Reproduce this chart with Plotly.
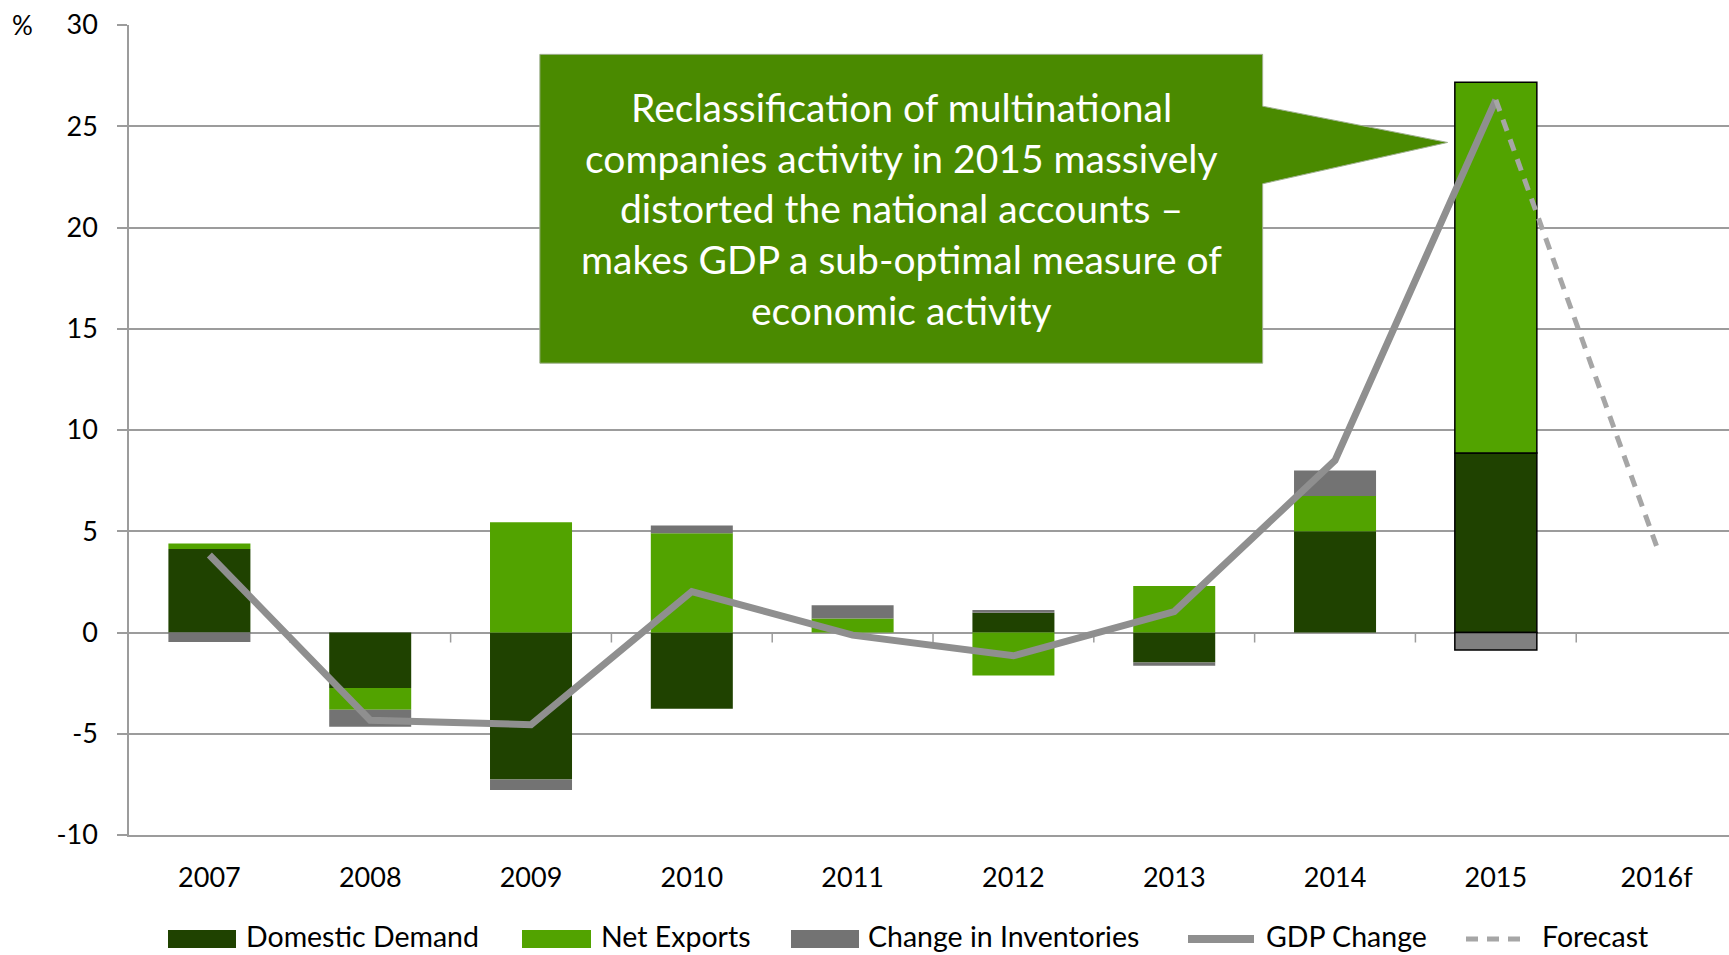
import plotly.graph_objects as go

# ---- data -------------------------------------------------------------
years = ["2007", "2008", "2009", "2010", "2011", "2012", "2013", "2014", "2015", "2016f"]
domestic_demand = [4.12, -2.74, -7.26, -3.76, 0.0, 0.97, -1.48, 5.00, 8.87, None]
net_exports = [0.28, -1.07, 5.44, 4.90, 0.69, -2.12, 2.30, 1.74, 18.30, None]
inventories = [-0.47, -0.85, -0.52, 0.39, 0.66, 0.14, -0.16, 1.26, -0.87, None]
gdp_change = [3.83, -4.33, -4.55, 2.02, -0.13, -1.15, 1.03, 8.50, 26.30, None]
forecast = [None, None, None, None, None, None, None, None, 26.30, 4.26]

series_names = ["Domestic Demand", "Net Exports", "Change in Inventories", "GDP Change", "Forecast"]
y_ticks = [-10, -5, 0, 5, 10, 15, 20, 25, 30]
y_tick_labels = ["-10", "-5", "0", "5", "10", "15", "20", "25", "30"]

callout_lines = [
    "Reclassification of multinational",
    "companies activity in 2015 massively",
    "distorted the national accounts \u2013",
    "makes GDP a sub-optimal measure of",
    "economic activity",
]

# ---- style --------------------------------------------------------------
W, H = 1729, 955
M_L, M_R, M_T, M_B = 129, 0, 25, 120
FONT = "Lato"
DARK_GREEN = "#1f4200"
LIGHT_GREEN = "#52a300"
INV_GREY = "#737373"
INV_GREY_HL = "#808080"
GDP_GREY = "#8f8f8f"
FC_GREY = "#a6a6a6"
GRID = "#9c9c9c"
CALLOUT = "#4a8a00"

x = list(range(len(years)))
highlight = [y == "2015" for y in years]
outline_w = [1.5 if h else 0 for h in highlight]

fig = go.Figure()
fig.add_trace(go.Bar(
    x=x, y=domestic_demand, name=series_names[0], width=0.51,
    marker=dict(color=DARK_GREEN, line=dict(color="black", width=outline_w)),
))
fig.add_trace(go.Bar(
    x=x, y=net_exports, name=series_names[1], width=0.51,
    marker=dict(color=LIGHT_GREEN, line=dict(color="black", width=outline_w)),
))
fig.add_trace(go.Bar(
    x=x, y=inventories, name=series_names[2], width=0.51,
    marker=dict(color=[INV_GREY_HL if h else INV_GREY for h in highlight],
                line=dict(color="black", width=outline_w)),
))
fig.add_trace(go.Scatter(
    x=x, y=gdp_change, name=series_names[3], mode="lines",
    line=dict(color=GDP_GREY, width=7), connectgaps=False,
))
fig.add_trace(go.Scatter(
    x=x, y=forecast, name=series_names[4], mode="lines",
    line=dict(color=FC_GREY, width=5, dash="12px,9px"), connectgaps=False,
))

shapes = []
# small category-boundary ticks hanging from the zero line
for i in range(len(years) - 1):
    shapes.append(dict(
        type="line", xref="x", yref="y", x0=i + 0.5, x1=i + 0.5,
        ysizemode="pixel", yanchor=0, y0=0, y1=-10,
        line=dict(color=GRID, width=1.5), layer="below",
    ))

# callout box with pointer towards the 2015 bar
bx0, bx1, by0, by1 = 2.055, 6.55, 13.3, 28.55
tip_x, tip_y = 7.70, 24.2
base_lo, base_hi = 22.16, 25.99
path = (f"M {bx0},{by0} L {bx1},{by0} L {bx1},{base_lo} L {tip_x},{tip_y} "
        f"L {bx1},{base_hi} L {bx1},{by1} L {bx0},{by1} Z")
shapes.append(dict(type="path", path=path, xref="x", yref="y",
                   fillcolor=CALLOUT, line=dict(color="#9fb08f", width=1), layer="above"))

annotations = []
line_top = 25.95
line_step = 2.505
for k, txt in enumerate(callout_lines):
    annotations.append(dict(
        x=(bx0 + bx1) / 2, y=line_top - k * line_step, xref="x", yref="y",
        text=txt, showarrow=False, xanchor="center", yanchor="middle",
        font=dict(family=FONT, size=39, color="white"),
    ))

# "%" unit label beside the top tick
plot_w = W - M_L - M_R
plot_h = H - M_T - M_B


def px_x(p):
    return (p - M_L) / plot_w


def px_y(p):
    return (H - M_B - p) / plot_h


annotations.append(dict(
    x=px_x(22), y=px_y(25), xref="paper", yref="paper", text="%", showarrow=False,
    xanchor="center", yanchor="middle", font=dict(family=FONT, size=26, color="black"),
))

# legend row
leg_y0, leg_y1, leg_yc, leg_text_y = 930, 948, 939, 936
legend_items = [
    ("bar", DARK_GREEN, 168, 236, 244),
    ("bar", LIGHT_GREEN, 522, 591, 599),
    ("bar", INV_GREY, 791, 859, 866),
    ("line", GDP_GREY, 1188, 1254, 1264),
    ("dash", FC_GREY, 1466, 1526, 1540),
]
for (kind, col, sx0, sx1, tx), name in zip(legend_items, series_names):
    if kind == "bar":
        shapes.append(dict(type="rect", xref="paper", yref="paper",
                           x0=px_x(sx0), x1=px_x(sx1), y0=px_y(leg_y1), y1=px_y(leg_y0),
                           fillcolor=col, line=dict(width=0)))
    elif kind == "line":
        shapes.append(dict(type="line", xref="paper", yref="paper",
                           x0=px_x(sx0), x1=px_x(sx1), y0=px_y(leg_yc), y1=px_y(leg_yc),
                           line=dict(color=col, width=8)))
    else:
        shapes.append(dict(type="line", xref="paper", yref="paper",
                           x0=px_x(sx0), x1=px_x(sx1), y0=px_y(leg_yc), y1=px_y(leg_yc),
                           line=dict(color=col, width=5, dash="12px,9px")))
    annotations.append(dict(
        x=px_x(tx), y=px_y(leg_text_y), xref="paper", yref="paper", text=name,
        showarrow=False, xanchor="left", yanchor="middle",
        font=dict(family=FONT, size=28.5, color="black"),
    ))

fig.update_layout(
    width=W, height=H,
    margin=dict(l=M_L, r=M_R, t=M_T, b=M_B, pad=0),
    paper_bgcolor="white", plot_bgcolor="white",
    barmode="relative",
    showlegend=False,
    font=dict(family=FONT, size=27, color="black"),
    shapes=shapes,
    annotations=annotations,
    xaxis=dict(
        range=[-0.5, 9.45], tickmode="array", tickvals=x, ticktext=years,
        showgrid=False, zeroline=False, showline=True, linecolor=GRID, linewidth=1.5,
        ticks="", ticklabelstandoff=18,
        tickfont=dict(family=FONT, size=27, color="black"),
        fixedrange=True,
    ),
    yaxis=dict(
        range=[-10, 30], tickmode="array", tickvals=y_ticks, ticktext=y_tick_labels,
        showgrid=True, gridcolor=GRID, gridwidth=1.5,
        zeroline=True, zerolinecolor=GRID, zerolinewidth=1.5,
        showline=True, linecolor=GRID, linewidth=1.5,
        ticks="outside", ticklen=10, tickcolor=GRID, tickwidth=1.5,
        ticklabelstandoff=14, tickfont=dict(family=FONT, size=27, color="black"),
        fixedrange=True,
    ),
)

fig.write_html("out.html", config={"displayModeBar": False})
